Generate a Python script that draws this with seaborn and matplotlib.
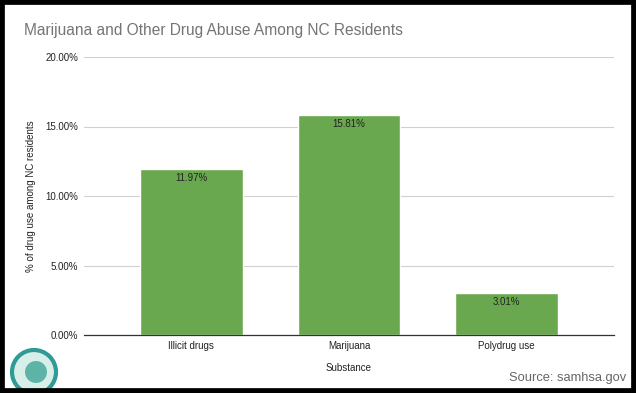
import matplotlib
matplotlib.use("Agg")
import matplotlib.pyplot as plt
from matplotlib.patches import Rectangle, Ellipse
from matplotlib.ticker import FuncFormatter
import seaborn as sns

substances = ["Illicit drugs", "Marijuana", "Polydrug use"]
usage_pct = [11.97, 15.81, 3.01]
y_ticks = [0, 5, 10, 15, 20]

sns.set_theme(style="white")
plt.rcParams["font.family"] = ["Liberation Sans", "DejaVu Sans"]

fig = plt.figure(figsize=(6.36, 3.93), dpi=100)
ax = fig.add_axes([84 / 636, 58 / 393, 530 / 636, 278 / 393])

sns.barplot(x=substances, y=usage_pct, color="#6aa84f", saturation=1,
            width=0.65, ax=ax)

ax.set_xlim(-0.68, 2.68)
ax.set_ylim(0, 20)
ax.set_yticks(y_ticks)
ax.yaxis.set_major_formatter(FuncFormatter(lambda v, _: f"{v:.2f}%"))
ax.grid(axis="y", color="#d0d0d0", linewidth=0.8)
ax.set_axisbelow(True)
for side in ["top", "right", "left"]:
    ax.spines[side].set_visible(False)
ax.spines["bottom"].set_color("#333333")
ax.spines["bottom"].set_linewidth(0.9)
ax.tick_params(axis="both", length=0, labelsize=7, colors="#222222")
ax.tick_params(axis="y", pad=4)
ax.tick_params(axis="x", pad=4)

ax.bar_label(ax.containers[0], labels=[f"{v:.2f}%" for v in usage_pct],
             padding=-10, fontsize=7, color="#222222")

ax.set_ylabel("% of drug use among NC residents", fontsize=7, color="#222222")
ax.yaxis.set_label_coords(-0.09, 0.5)
ax.set_xlabel("Substance", fontsize=7, color="#222222")
ax.xaxis.set_label_coords(0.5, -0.10)

fig.text(24 / 636, 1 - 31 / 393, "Marijuana and Other Drug Abuse Among NC Residents",
         fontsize=11.2, color="#757575", va="center", ha="left")
fig.text(626 / 636, 1 - 378 / 393, "Source: samhsa.gov",
         fontsize=9.3, color="#666666", va="center", ha="right")

# rough stand-in for the logo in the corner
fig.patches.append(Ellipse((34 / 636, 1 - 372 / 393), 44 / 636, 44 / 393,
                           transform=fig.transFigure, facecolor="#d8efe9",
                           edgecolor="#2f9a96", linewidth=3))
fig.patches.append(Ellipse((36 / 636, 1 - 372 / 393), 22 / 636, 22 / 393,
                           transform=fig.transFigure, facecolor="#5db3a6",
                           edgecolor="none"))

fig.patches.append(Rectangle((0, 0), 1, 1, transform=fig.transFigure,
                             fill=False, edgecolor="black", linewidth=7))

fig.savefig("out.png", dpi=100)
